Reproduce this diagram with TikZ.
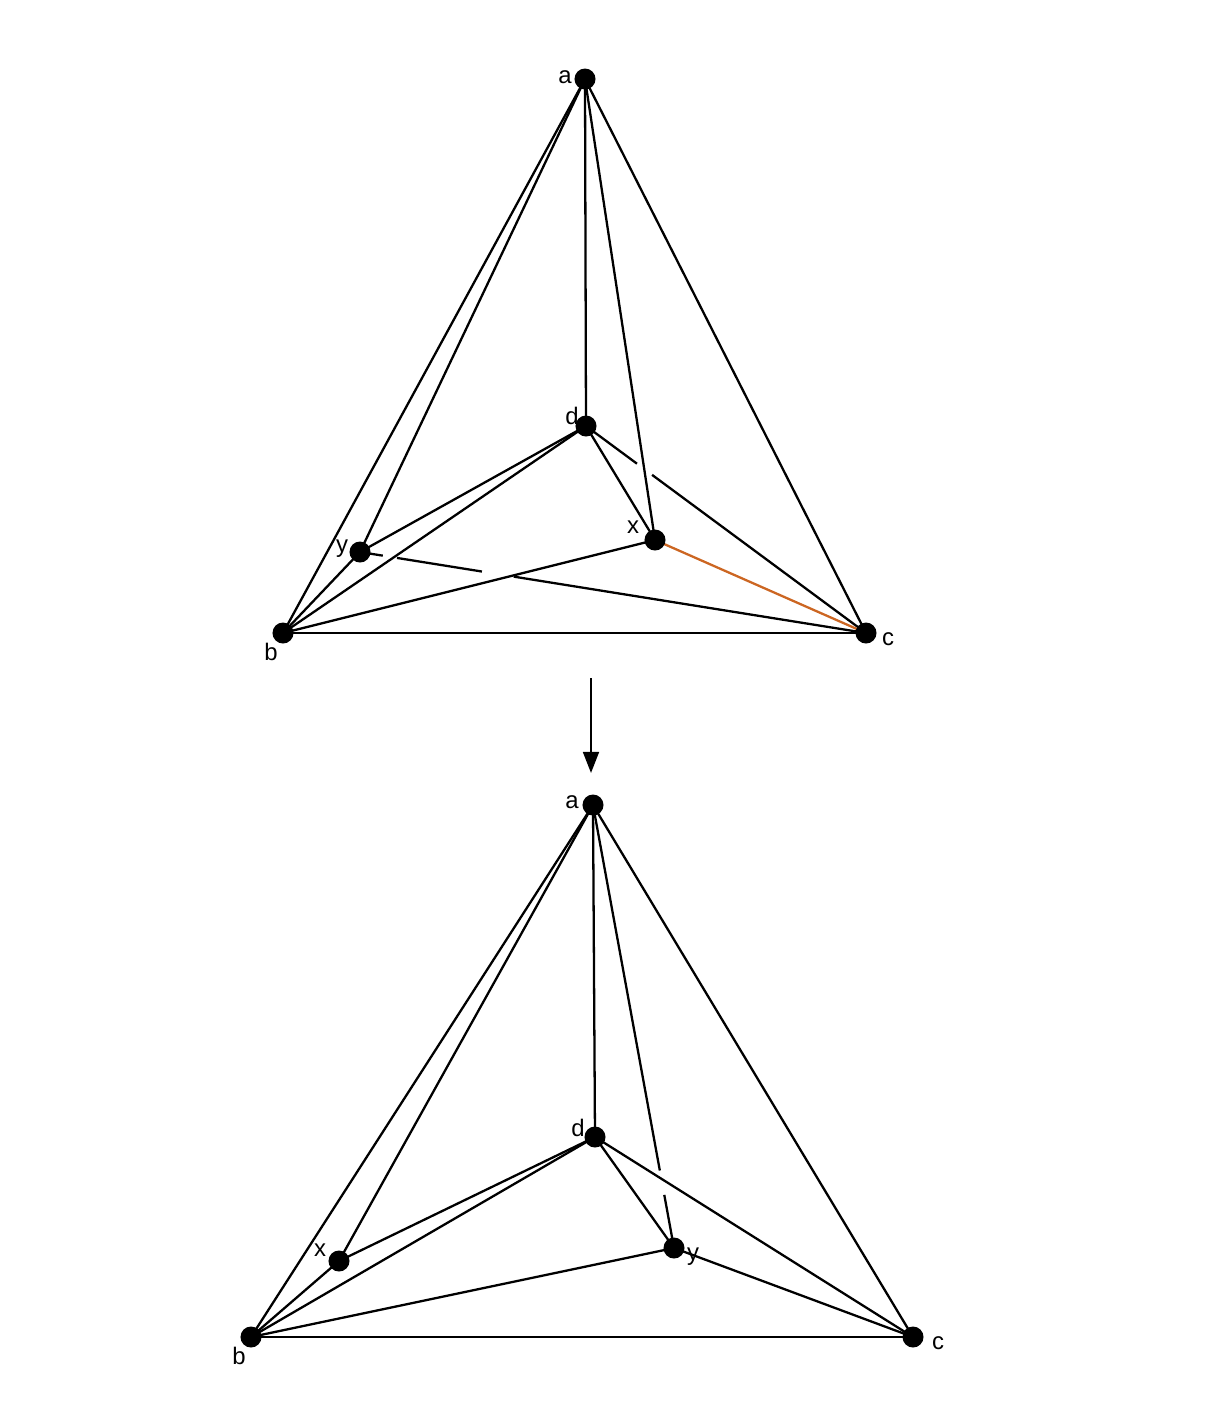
\documentclass[tikz,border=0pt]{standalone}
\usepackage{fontspec}
\setmainfont{Liberation Sans}
\usetikzlibrary{calc,arrows.meta}
\definecolor{edgeorange}{RGB}{204,102,34}
\tikzset{
  vtx/.style={circle,fill=black,inner sep=0pt,minimum size=0.21cm},
  lbl/.style={inner sep=0pt,font=\fontsize{6.8}{7}\selectfont},
  edge/.style={line width=0.65pt,black},
  oedge/.style={line width=0.65pt,edgeorange}
}
\begin{document}
\begin{tikzpicture}[x=0.01cm,y=-0.01cm]
\useasboundingbox (0,0) rectangle (1208,1408);
% ---------- top graph ----------
\coordinate (ta) at (585,79);
\coordinate (td) at (586,426);
\coordinate (tx) at (655,540);
\coordinate (ty) at (360,552);
\coordinate (tb) at (283,633);
\coordinate (tc) at (866,633);
\draw[edge] (ta) -- (tb);
\draw[edge] (ta) -- (ty);
\draw[edge] (ta) -- (td);
\draw[edge] (ta) -- (tx);
\draw[edge] (ta) -- (tc);
\draw[edge] (td) -- (ty);
\draw[edge] (td) -- (tb);
\draw[edge] (td) -- (tx);
\draw[edge] (td) -- ($(td)!0.182!(tc)$);
\draw[edge] ($(td)!0.236!(tc)$) -- (tc);
\draw[edge] (ty) -- ($(ty)!0.045!(tc)$);
\draw[edge] ($(ty)!0.073!(tc)$) -- ($(ty)!0.241!(tc)$);
\draw[edge] ($(ty)!0.304!(tc)$) -- (tc);
\draw[edge] (tb) -- (ty);
\draw[edge] (tb) -- (tx);
\draw[edge] (tb) -- (tc);
\draw[oedge] (tx) -- (tc);
\node[vtx] (nta) at (ta) {};
\node[vtx] (ntd) at (td) {};
\node[vtx] (ntx) at (tx) {};
\node[vtx] (nty) at (ty) {};
\node[vtx] (ntb) at (tb) {};
\node[vtx] (ntc) at (tc) {};
\node[lbl] (la1) at (565,77) {a};
\node[lbl] (ld1) at (572,416) {d};
\node[lbl] (lx1) at (633,527) {x};
\node[lbl] (ly1) at (342,549) {y};
\node[lbl] (lb1) at (271,652) {b};
\node[lbl] (lc1) at (888,639) {c};
% ---------- arrow ----------
\coordinate (arrS) at (591,678);
\coordinate (arrE) at (591,773);
\draw[edge,-{Triangle[width=4.5pt,length=6pt]}] (arrS) -- (arrE);
% ---------- bottom graph ----------
\coordinate (ba) at (593,805);
\coordinate (bd) at (595,1137);
\coordinate (bx) at (339,1261);
\coordinate (by) at (674,1248);
\coordinate (bb) at (251,1337);
\coordinate (bc) at (913,1337);
\draw[edge] (ba) -- (bb);
\draw[edge] (ba) -- (bx);
\draw[edge] (ba) -- (bd);
\draw[edge] (ba) -- ($(ba)!0.825!(by)$);
\draw[edge] ($(ba)!0.88!(by)$) -- (by);
\draw[edge] (ba) -- (bc);
\draw[edge] (bd) -- (bx);
\draw[edge] (bd) -- (bb);
\draw[edge] (bd) -- (by);
\draw[edge] (bd) -- (bc);
\draw[edge] (bb) -- (bx);
\draw[edge] (bb) -- (by);
\draw[edge] (bb) -- (bc);
\draw[edge] (by) -- (bc);
\node[vtx] (nba) at (ba) {};
\node[vtx] (nbd) at (bd) {};
\node[vtx] (nbx) at (bx) {};
\node[vtx] (nby) at (by) {};
\node[vtx] (nbb) at (bb) {};
\node[vtx] (nbc) at (bc) {};
\node[lbl] (la2) at (572,802) {a};
\node[lbl] (ld2) at (578,1128) {d};
\node[lbl] (lx2) at (320,1250) {x};
\node[lbl] (ly2) at (693,1257) {y};
\node[lbl] (lb2) at (239,1356) {b};
\node[lbl] (lc2) at (938,1343) {c};
\end{tikzpicture}
\end{document}
